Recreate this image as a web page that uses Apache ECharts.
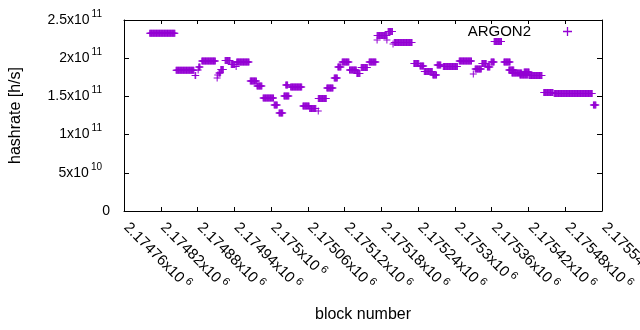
<!DOCTYPE html>
<html><head><meta charset="utf-8">
<script src="https://cdn.jsdelivr.net/npm/echarts@6/dist/echarts.min.js"></script>
<style>html,body{margin:0;padding:0;background:#fff}#c{width:640px;height:330px}</style>
</head><body><div id="c"></div>
<script>
// Tick labels
const xTickMantissa = ['2.17476','2.17482','2.17488','2.17494','2.175','2.17506','2.17512','2.17518','2.17524','2.1753','2.17536','2.17542','2.17548','2.17554'];
const xTickExponent = '6';
const yTickMantissa = ['0','5','1','1.5','2','2.5'];
const yTickExponent = ['','10','11','11','11','11'];
const xMin = 2174760, xMax = 2175540, xStep = 60;
const yMin = 0, yMax = 2.5e11, yStep = 5e10;

// ARGON2 hashrate, run-length encoded: blocks runStart..runEnd share runValue
const runStart = [2174802,2174845,2174876,2174881,2174882,2174887,2174912,2174913,2174915,2174918,2174925,2174935,2174943,2174944,2174966,2174977,2174987,2175005,2175013,2175021,2175024,2175032,2175052,2175063,2175077,2175077,2175091,2175103,2175109,2175116,2175128,2175140,2175147,2175160,2175173,2175173,2175189,2175191,2175199,2175201,2175233,2175243,2175250,2175264,2175271,2175281,2175307,2175330,2175333,2175344,2175353,2175359,2175364,2175380,2175388,2175393,2175406,2175413,2175421,2175445,2175462,2175526];
const runEnd   = [2174843,2174874,2174877,2174881,2174884,2174909,2174912,2174913,2174917,2174922,2174933,2174941,2174943,2174964,2174976,2174985,2175004,2175010,2175019,2175029,2175027,2175050,2175062,2175073,2175077,2175090,2175101,2175108,2175114,2175127,2175139,2175145,2175157,2175171,2175173,2175189,2175189,2175198,2175199,2175230,2175241,2175249,2175263,2175270,2175277,2175304,2175327,2175330,2175343,2175351,2175357,2175364,2175376,2175390,2175396,2175409,2175419,2175421,2175442,2175460,2175524,2175530];
const runValue = [2.326e11,1.842e11,1.774e11,1.846e11,1.885e11,1.964e11,1.741e11,1.780e11,1.806e11,1.852e11,1.970e11,1.918e11,1.890e11,1.950e11,1.702e11,1.636e11,1.479e11,1.388e11,1.283e11,1.505e11,1.650e11,1.623e11,1.374e11,1.342e11,1.310e11,1.473e11,1.610e11,1.741e11,1.885e11,1.950e11,1.846e11,1.800e11,1.878e11,1.950e11,2.238e11,2.297e11,2.238e11,2.350e11,2.186e11,2.206e11,1.931e11,1.898e11,1.826e11,1.780e11,1.911e11,1.890e11,1.963e11,1.793e11,1.859e11,1.931e11,1.885e11,1.950e11,2.219e11,1.950e11,1.846e11,1.806e11,1.780e11,1.820e11,1.774e11,1.551e11,1.538e11,1.388e11];

const points = [];
for (let r = 0; r < runStart.length; r++) {
  for (let b = runStart[r]; b <= runEnd[r]; b++) points.push([b, runValue[r]]);
}

const plusPath = 'path://M3,0h1v3h3v1h-3v3h-1v-3h-3v-1h3z';
const purple = '#9400d3';
const font = 'Liberation Sans';

const chart = echarts.init(document.getElementById('c'), null, {renderer: 'canvas'});
chart.setOption({
  animation: false,
  backgroundColor: '#fff',
  textStyle: {fontFamily: font, color: '#000'},
  grid: {left: 124, right: 38, top: 20, bottom: 119, containLabel: false, outerBoundsMode: 'none'},
  legend: {
    right: 68, top: 24, padding: 0, align: 'right',
    itemWidth: 63, itemHeight: 9, symbolKeepAspect: true,
    textStyle: {fontSize: 15, color: '#000', fontFamily: font},
    data: [{name: 'ARGON2', icon: plusPath}]
  },
  xAxis: [{
    type: 'value', position: 'bottom', min: xMin, max: xMax, interval: xStep,
    axisLine: {show: true, onZero: false, lineStyle: {color: '#000', width: 1}},
    axisTick: {show: true, inside: true, length: 4, lineStyle: {color: '#000'}},
    splitLine: {show: false},
    axisLabel: {
      rotate: -45, margin: 12, padding: [0, 0, 0, 3], showMinLabel: true, showMaxLabel: true,
      formatter: function (v) {
        const i = Math.round((v - xMin) / xStep);
        return '{m|' + xTickMantissa[i] + 'x10}{e|' + xTickExponent + '}';
      },
      rich: {
        m: {fontSize: 15, lineHeight: 20, color: '#000', fontFamily: font},
        e: {fontSize: 11, lineHeight: 14, verticalAlign: 'top', padding: [0, 0, 0, 3], color: '#000', fontFamily: font}
      }
    },
    name: 'block number', nameLocation: 'middle', nameGap: 96,
    nameTextStyle: {fontSize: 16, color: '#000', fontFamily: font}
  }, {
    type: 'value', position: 'top', min: xMin, max: xMax, interval: xStep,
    axisLine: {show: true, onZero: false, lineStyle: {color: '#000', width: 1}},
    axisTick: {show: true, inside: true, length: 4, lineStyle: {color: '#000'}},
    axisLabel: {show: false}, splitLine: {show: false}
  }],
  yAxis: [{
    type: 'value', position: 'left', min: yMin, max: yMax, interval: yStep,
    axisLine: {show: true, onZero: false, lineStyle: {color: '#000', width: 1}},
    axisTick: {show: true, inside: true, length: 5, lineStyle: {color: '#000'}},
    splitLine: {show: false},
    axisLabel: {
      margin: 14,
      formatter: function (v) {
        const i = Math.round((v - yMin) / yStep);
        if (!yTickExponent[i]) return '{z|' + yTickMantissa[i] + '}';
        return '{m|' + yTickMantissa[i] + 'x10}{e|' + yTickExponent[i] + '}';
      },
      rich: {
        z: {fontSize: 14, lineHeight: 22, color: '#000', fontFamily: font},
        m: {fontSize: 14, lineHeight: 22, color: '#000', fontFamily: font},
        e: {fontSize: 10, lineHeight: 15, verticalAlign: 'top', padding: [0, 8, 0, 2], color: '#000', fontFamily: font}
      }
    },
    name: 'hashrate [h/s]', nameLocation: 'middle', nameGap: 100, nameRotate: 90,
    nameTextStyle: {fontSize: 16, color: '#000', fontFamily: font}
  }, {
    type: 'value', position: 'right', min: yMin, max: yMax, interval: yStep,
    axisLine: {show: true, onZero: false, lineStyle: {color: '#000', width: 1}},
    axisTick: {show: true, inside: true, length: 5, lineStyle: {color: '#000'}},
    axisLabel: {show: false}, splitLine: {show: false}
  }],
  series: [{
    type: 'scatter', name: 'ARGON2', xAxisIndex: 0, yAxisIndex: 0,
    data: points, symbol: plusPath, symbolSize: 7,
    itemStyle: {color: purple, opacity: 1},
    emphasis: {disabled: true}
  }]
});
</script></body></html>
